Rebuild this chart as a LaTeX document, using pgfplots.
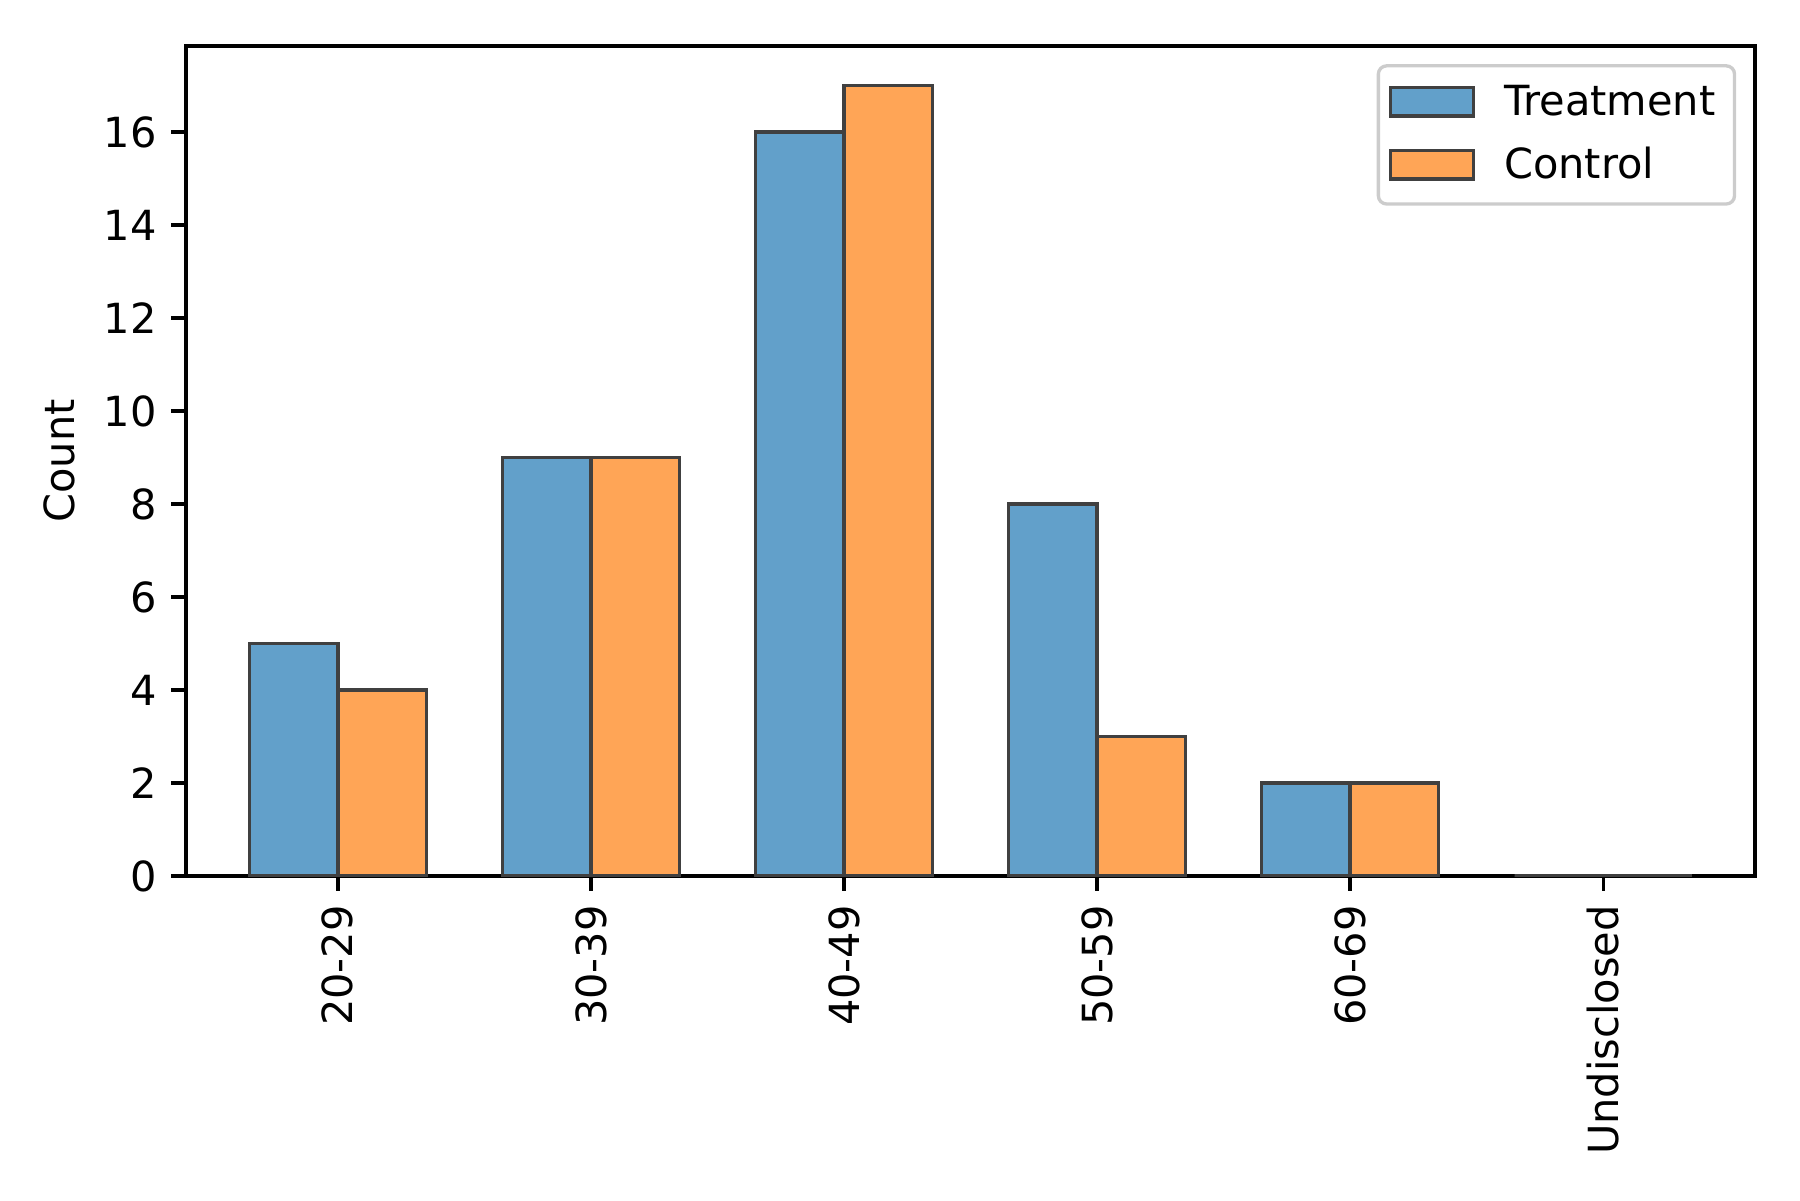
\documentclass[border=0pt]{standalone}
\usepackage{fontspec}
\setmainfont{DejaVu Sans}
\usepackage{pgfplots}
\pgfplotsset{compat=1.18}
\definecolor{tblue}{RGB}{98,160,202}
\definecolor{torange}{RGB}{255,165,86}
\definecolor{edgegray}{RGB}{64,64,64}
\begin{document}
\fontsize{10}{12}\selectfont
\begin{tikzpicture}
\begin{axis}[
  scale only axis,
  width=5.23in, height=2.767in,
  xmin=-0.6, xmax=5.6,
  ymin=0, ymax=17.85,
  xtick={0,1,2,3,4,5},
  xticklabels={20-29,30-39,40-49,50-59,60-69,Undisclosed},
  x tick label style={rotate=90, anchor=east, font=\fontsize{10}{12}\selectfont},
  ytick={0,2,4,6,8,10,12,14,16},
  y tick label style={font=\fontsize{10}{12}\selectfont},
  /pgf/number format/assume math mode=true,
  tick align=outside,
  tick pos=left,
  major tick length=3.5pt,
  tick style={black, line width=0.8pt},
  axis line style={line width=0.8pt},
  ylabel={Count},
  ylabel style={font=\fontsize{10}{12}\selectfont},
  ybar, bar width=0.35,
  legend style={at={(0.988,0.978)}, anchor=north east, draw=black!20, line width=0.8pt, rounded corners=2pt, font=\fontsize{10}{12}\selectfont, row sep=2.2pt, column sep=5pt, inner sep=2.6pt},
  legend cell align=left,
  legend image code/.code={\draw[#1, sharp corners] (0cm,-0.11cm) rectangle (0.7cm,0.13cm);},
]
\addplot[bar shift=-0.175, fill=tblue, draw=edgegray, line width=0.8pt] coordinates {(0,5) (1,9) (2,16) (3,8) (4,2) (5,0)};
\addlegendentry{Treatment}
\addplot[bar shift=0.175, fill=torange, draw=edgegray, line width=0.8pt] coordinates {(0,4) (1,9) (2,17) (3,3) (4,2) (5,0)};
\addlegendentry{Control}
\end{axis}
\path[use as bounding box] ([xshift=-0.62in,yshift=-1.08in]current axis.south west) rectangle ([xshift=0.15in,yshift=0.153in]current axis.north east);
\end{tikzpicture}
\end{document}
